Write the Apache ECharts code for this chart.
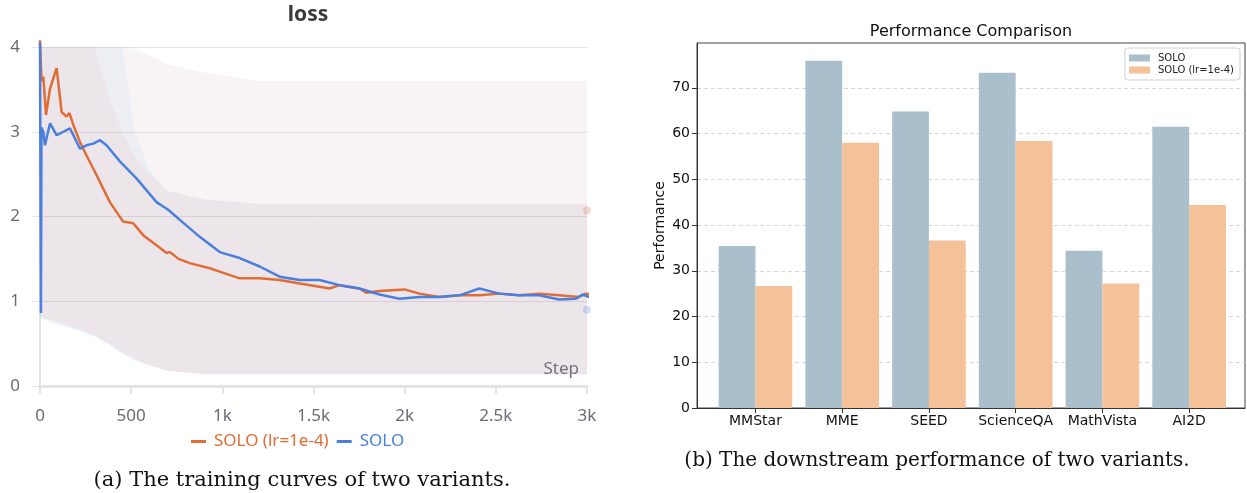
<!DOCTYPE html>
<html>
<head>
<meta charset="utf-8">
<script src="https://cdn.jsdelivr.net/npm/echarts@6/dist/echarts.min.js"></script>
<style>
  html, body { margin: 0; padding: 0; background: #fff; }
  #main { width: 1247px; height: 493px; }
</style>
</head>
<body>
<div id="main"></div>
<script>
// ---- (a) loss curves, smoothed ----
const orangeSteps = [0, 8, 18, 33, 55, 73, 91, 119, 146, 161, 183, 219, 255, 310, 383, 456, 511, 566, 639, 694, 712, 760, 821, 931, 986, 1095, 1205, 1314, 1424, 1533, 1588, 1643, 1752, 1789, 1862, 1999, 2081, 2190, 2300, 2410, 2519, 2628, 2738, 2848, 2957, 2993, 3067];
const orangeLoss = [4.08, 3.60, 3.65, 3.20, 3.51, 3.63, 3.75, 3.23, 3.18, 3.22, 3.08, 2.88, 2.72, 2.49, 2.17, 1.94, 1.92, 1.78, 1.66, 1.57, 1.58, 1.50, 1.45, 1.39, 1.35, 1.27, 1.27, 1.25, 1.21, 1.17, 1.15, 1.19, 1.15, 1.10, 1.12, 1.14, 1.09, 1.05, 1.07, 1.07, 1.09, 1.07, 1.09, 1.07, 1.05, 1.09, 1.07];
const blueSteps = [0, 5, 8, 18, 27, 55, 91, 128, 164, 192, 219, 255, 292, 329, 365, 438, 529, 639, 703, 767, 876, 986, 1095, 1205, 1314, 1424, 1533, 1643, 1752, 1862, 1972, 2081, 2190, 2300, 2410, 2519, 2628, 2738, 2848, 2939, 2975, 3012, 3067];
const blueLoss = [4.05, 0.86, 3.05, 3.00, 2.84, 3.10, 2.96, 3.00, 3.04, 2.92, 2.80, 2.84, 2.86, 2.90, 2.84, 2.65, 2.45, 2.17, 2.08, 1.96, 1.76, 1.58, 1.51, 1.41, 1.29, 1.25, 1.25, 1.19, 1.15, 1.08, 1.03, 1.05, 1.05, 1.07, 1.15, 1.09, 1.07, 1.07, 1.02, 1.03, 1.08, 1.05, 1.05];
const lastRawOrange = [3000, 2.07];
const lastRawBlue = [3000, 0.90];

// raw (unsmoothed) loss spread, read as envelopes
const noiseSteps = [0, 100, 200, 300, 380, 450, 520, 600, 700, 900, 1200, 1500, 2000, 2500, 3000];
const blueNoiseLow = [0.80, 0.72, 0.66, 0.58, 0.48, 0.38, 0.30, 0.24, 0.18, 0.14, 0.14, 0.14, 0.14, 0.14, 0.14];
const blueNoiseMid = [4.00, 4.00, 4.00, 4.00, 4.00, 4.00, 3.00, 2.55, 2.30, 2.20, 2.15, 2.15, 2.15, 2.15, 2.15];
const blueNoiseHigh = [4.00, 4.00, 4.00, 4.00, 4.00, 4.00, 4.00, 3.90, 3.80, 3.70, 3.60, 3.60, 3.60, 3.60, 3.60];
const orangeNoiseLow = [0.82, 0.75, 0.68, 0.60, 0.50, 0.40, 0.32, 0.25, 0.18, 0.14, 0.14, 0.14, 0.14, 0.14, 0.14];
const orangeNoiseMid = [4.00, 4.00, 4.00, 4.00, 3.40, 3.00, 2.70, 2.50, 2.30, 2.20, 2.15, 2.15, 2.15, 2.15, 2.15];
const orangeNoiseHigh = [4.00, 4.00, 4.00, 4.00, 4.00, 4.00, 3.95, 3.90, 3.80, 3.70, 3.60, 3.60, 3.60, 3.60, 3.60];

// ---- (b) downstream performance ----
const benchmarks = ['MMStar', 'MME', 'SEED', 'ScienceQA', 'MathVista', 'AI2D'];
const soloScores = [35.4, 75.9, 64.8, 73.3, 34.4, 61.5];
const soloLrScores = [26.7, 58.0, 36.6, 58.4, 27.2, 44.4];

const ORANGE = '#e06c36';
const BLUE = '#4a7fde';
const AXIS_GREY = '#6b6b76';

const chart = echarts.init(document.getElementById('main'));

// filled band between two envelopes, placed through the loss chart's axes
function band(low, high, color) {
    return {
        type: 'custom', xAxisIndex: 0, yAxisIndex: 0, z: 1, silent: true, clip: true,
        data: [[noiseSteps[0], low[0]]],
        renderItem: (params, api) => {
            const top = noiseSteps.map((s, i) => api.coord([s, high[i]]));
            const bottom = noiseSteps.map((s, i) => api.coord([s, low[i]])).reverse();
            return { type: 'polygon', shape: { points: top.concat(bottom) }, style: { fill: color } };
        }
    };
}

const bandSeries = [
    band(orangeNoiseLow, orangeNoiseMid, 'rgba(240,140,90,0.13)'),
    band(orangeNoiseMid, orangeNoiseHigh, 'rgba(240,140,90,0.05)'),
    band(blueNoiseLow, blueNoiseMid, 'rgba(90,140,230,0.10)'),
    band(blueNoiseMid, blueNoiseHigh, 'rgba(90,140,230,0.04)')
];

const option = {
    backgroundColor: '#fff',
    animation: false,
    grid: [
        { left: 40, right: 660, top: 47, bottom: 107, outerBoundsMode: 'none' },
        { left: 697, right: 2, top: 43, bottom: 85, show: true, borderColor: '#444', borderWidth: 1, outerBoundsMode: 'none' }
    ],
    legend: [
        {
            left: 186, top: 428, itemWidth: 15, itemHeight: 3, icon: 'rect', itemGap: 8,
            textStyle: { fontFamily: 'Noto Sans', fontSize: 17, padding: [0, 0, 0, 3] },
            data: [
                { name: 'SOLO (lr=1e-4)', itemStyle: { color: ORANGE }, textStyle: { color: ORANGE } },
                { name: 'SOLO', itemStyle: { color: BLUE }, textStyle: { color: BLUE } }
            ],
            selectedMode: false
        },
        {
            right: 7, top: 48, orient: 'vertical', itemWidth: 21, itemHeight: 7, itemGap: 2, icon: 'rect',
            padding: [5, 6, 5, 4],
            borderColor: '#d0d0d0', borderWidth: 1, borderRadius: 3, backgroundColor: '#fff',
            textStyle: { fontFamily: 'DejaVu Sans', fontSize: 10, color: '#222', padding: [0, 0, 0, 3] },
            data: [
                { name: 'SOLO', itemStyle: { color: '#a9bfcc' } },
                { name: 'SOLO (lr=1e-4)', itemStyle: { color: '#f5c199' } }
            ],
            selectedMode: false
        }
    ],
    xAxis: [
        {
            gridIndex: 0, type: 'value', min: 0, max: 3000, interval: 500,
            name: 'Step', nameLocation: 'end', nameGap: -8,
            nameTextStyle: { fontFamily: 'Noto Sans', fontSize: 17, color: AXIS_GREY, align: 'right', verticalAlign: 'bottom', padding: [0, 0, 8, 0] },
            axisLine: { onZero: false, lineStyle: { color: '#e3e3e8', width: 3 } },
            axisTick: { show: true, length: 8, lineStyle: { color: '#e3e3e8', width: 2 } },
            axisLabel: {
                margin: 22, color: AXIS_GREY, fontFamily: 'Noto Sans', fontSize: 17,
                formatter: v => v >= 1000 ? (v / 1000) + 'k' : String(v)
            },
            splitLine: { show: false }
        },
        {
            gridIndex: 1, type: 'value', min: -0.674, max: 5.644,
            axisLine: { onZero: false, lineStyle: { color: '#333' } },
            axisTick: { length: 5, lineStyle: { color: '#333' }, customValues: [0, 1, 2, 3, 4, 5] },
            axisLabel: {
                margin: 6, color: '#111', fontFamily: 'DejaVu Sans', fontSize: 14,
                customValues: [0, 1, 2, 3, 4, 5],
                formatter: v => benchmarks[Math.round(v)] || ''
            },
            splitLine: { show: false }
        }
    ],
    yAxis: [
        {
            gridIndex: 0, type: 'value', min: 0, max: 4, interval: 1,
            axisLine: { show: true, onZero: false, lineStyle: { color: '#e3e3e8', width: 2 } },
            axisTick: { show: true, length: 8, lineStyle: { color: '#e3e3e8', width: 1 } },
            axisLabel: { margin: 20, color: AXIS_GREY, fontFamily: 'Noto Sans', fontSize: 17 },
            splitLine: { lineStyle: { color: '#e6e2e6', width: 1 } }
        },
        {
            gridIndex: 1, type: 'value', min: 0, max: 79.8, interval: 10,
            name: 'Performance', nameLocation: 'middle', nameGap: 30,
            nameTextStyle: { fontFamily: 'DejaVu Sans', fontSize: 14, color: '#111' },
            axisLine: { show: true, onZero: false, lineStyle: { color: '#333' } },
            axisTick: { show: true, length: 5, lineStyle: { color: '#333' }, customValues: [0, 10, 20, 30, 40, 50, 60, 70] },
            axisLabel: {
                margin: 7, color: '#111', fontFamily: 'DejaVu Sans', fontSize: 14,
                customValues: [0, 10, 20, 30, 40, 50, 60, 70]
            },
            splitLine: { lineStyle: { color: '#d6d6d6', type: [4, 3], width: 1 } }
        }
    ],
    series: bandSeries.concat([
        {
            name: 'SOLO (lr=1e-4)', type: 'line', xAxisIndex: 0, yAxisIndex: 0, z: 3,
            data: orangeSteps.map((s, i) => [s, orangeLoss[i]]),
            showSymbol: false, symbol: 'none', clip: false,
            itemStyle: { color: ORANGE },
            lineStyle: { color: ORANGE, width: 2.5 }
        },
        {
            name: 'SOLO', type: 'line', xAxisIndex: 0, yAxisIndex: 0, z: 3,
            data: blueSteps.map((s, i) => [s, blueLoss[i]]),
            showSymbol: false, symbol: 'none', clip: false,
            itemStyle: { color: BLUE },
            lineStyle: { color: BLUE, width: 2.5 }
        },
        {
            type: 'scatter', xAxisIndex: 0, yAxisIndex: 0, z: 2, silent: true,
            data: [
                { value: lastRawOrange, itemStyle: { color: ORANGE } },
                { value: lastRawBlue, itemStyle: { color: BLUE } }
            ],
            symbolSize: 8, itemStyle: { opacity: 0.25 }
        },
        {
            name: 'SOLO', type: 'bar', xAxisIndex: 1, yAxisIndex: 1,
            data: soloScores.map((v, i) => [i, v]),
            barWidth: 36.8, barGap: '0%',
            itemStyle: { color: '#a9bfcc' }
        },
        {
            name: 'SOLO (lr=1e-4)', type: 'bar', xAxisIndex: 1, yAxisIndex: 1,
            data: soloLrScores.map((v, i) => [i, v]),
            barWidth: 36.8, barGap: '0%',
            itemStyle: { color: '#f5c199' }
        }
    ]),
    graphic: [
        {
            type: 'text', x: 308, y: 15,
            style: { text: 'loss', font: 'bold 21px "Noto Sans"', fill: '#3a3a3a', align: 'center', verticalAlign: 'middle' }
        },
        {
            type: 'text', x: 971, y: 32,
            style: { text: 'Performance Comparison', font: '16px "DejaVu Sans"', fill: '#111', align: 'center', verticalAlign: 'middle' }
        },
        {
            type: 'text', x: 302, y: 481,
            style: { text: '(a) The training curves of two variants.', font: '21px "DejaVu Serif"', fill: '#111', align: 'center', verticalAlign: 'middle' }
        },
        {
            type: 'text', x: 937, y: 461,
            style: { text: '(b) The downstream performance of two variants.', font: '20px "DejaVu Serif"', fill: '#111', align: 'center', verticalAlign: 'middle' }
        }
    ]
};

chart.setOption(option);
</script>
</body>
</html>
